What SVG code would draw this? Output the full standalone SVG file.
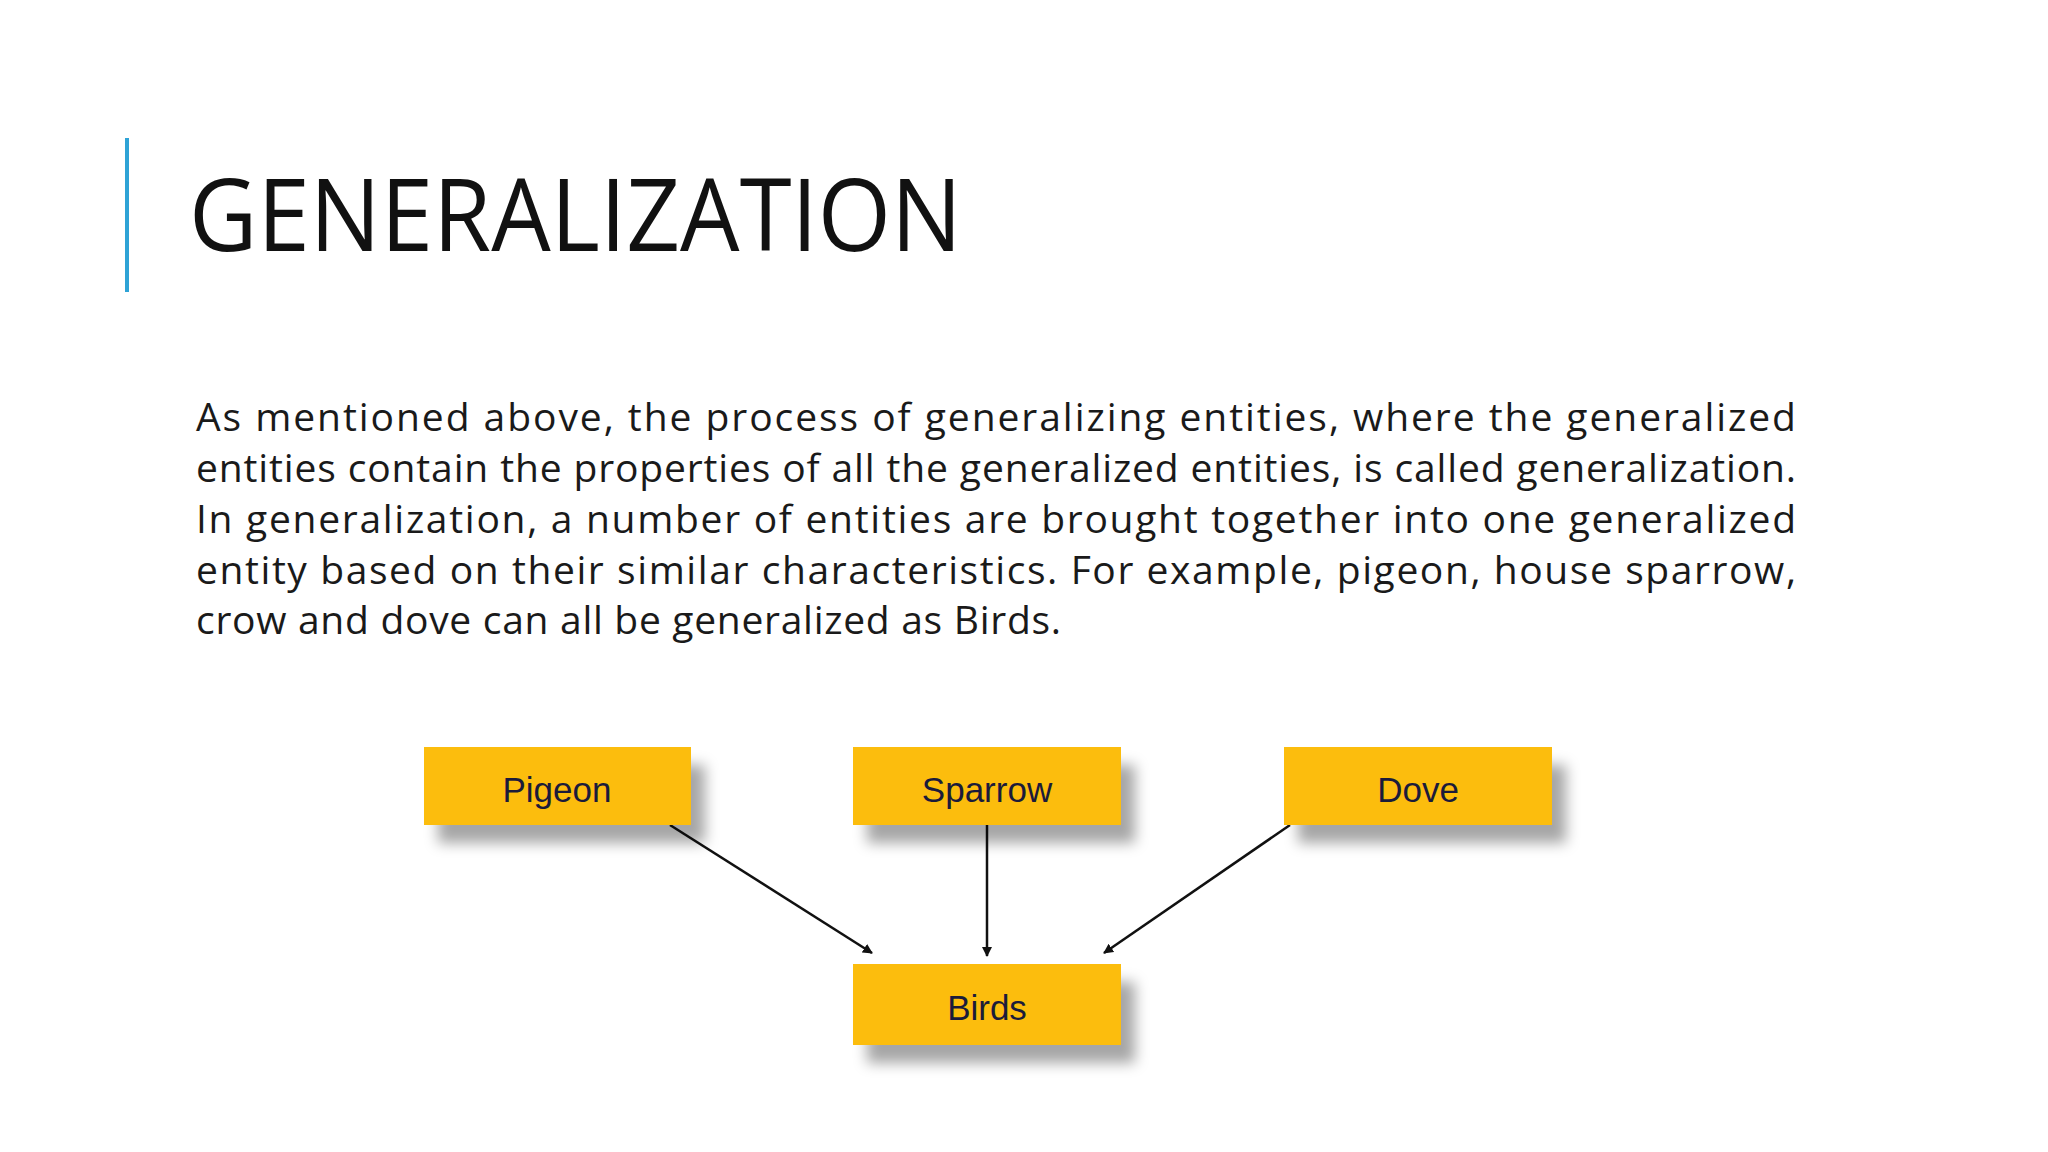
<svg xmlns="http://www.w3.org/2000/svg" width="2048" height="1152" viewBox="0 0 2048 1152">
<defs>
<style>
.body{font-family:"Open Sans","Liberation Sans",sans-serif;font-size:39px;fill:#1a1a1a}
.lbl{font-family:"Liberation Sans",Arial,sans-serif;font-size:35px;fill:#1b1b3a;text-anchor:middle}
.box{fill:#fcbd0c;filter:url(#sh)}
.conn{stroke:#111;stroke-width:2.5;fill:none;marker-end:url(#ah)}
</style>
<filter id="sh" x="-20%" y="-30%" width="150%" height="190%">
<feDropShadow dx="14" dy="18" stdDeviation="7" flood-color="#000" flood-opacity="0.35"/>
</filter>
<marker id="ah" markerWidth="10" markerHeight="10" refX="9" refY="5" orient="auto" markerUnits="userSpaceOnUse" viewBox="0 0 10 10">
<path d="M0,0 L10,5 L0,10 z" fill="#111"/>
</marker>
</defs>
<rect width="2048" height="1152" fill="#fff"/>
<rect x="125" y="138" width="4" height="154" fill="#2ea3d6"/>
<text x="189" y="251" font-family="Open Sans,Liberation Sans,sans-serif" font-size="100" fill="#111" textLength="773" lengthAdjust="spacingAndGlyphs">GENERALIZATION</text>
<g class="body">
<text x="196" y="431" textLength="1600" lengthAdjust="spacing">As mentioned above, the process of generalizing entities, where the generalized</text>
<text x="196" y="482" textLength="1600" lengthAdjust="spacing">entities contain the properties of all the generalized entities, is called generalization.</text>
<text x="196" y="533" textLength="1600" lengthAdjust="spacing">In generalization, a number of entities are brought together into one generalized</text>
<text x="196" y="584" textLength="1600" lengthAdjust="spacing">entity based on their similar characteristics. For example, pigeon, house sparrow,</text>
<text x="196" y="634" textLength="865" lengthAdjust="spacing">crow and dove can all be generalized as Birds.</text>
</g>
<g id="connectors">
<line class="conn" x1="670" y1="825" x2="872" y2="953"/>
<line class="conn" x1="987" y1="825" x2="987" y2="956"/>
<line class="conn" x1="1290" y1="825" x2="1104" y2="953"/>
</g>
<g id="pigeon"><rect class="box" x="424" y="747" width="267" height="78"/><text class="lbl" x="557" y="802">Pigeon</text></g>
<g id="sparrow"><rect class="box" x="853" y="747" width="268" height="78"/><text class="lbl" x="987" y="802">Sparrow</text></g>
<g id="dove"><rect class="box" x="1284" y="747" width="268" height="78"/><text class="lbl" x="1418" y="802">Dove</text></g>
<g id="birds"><rect class="box" x="853" y="964" width="268" height="81"/><text class="lbl" x="987" y="1020">Birds</text></g>
</svg>
